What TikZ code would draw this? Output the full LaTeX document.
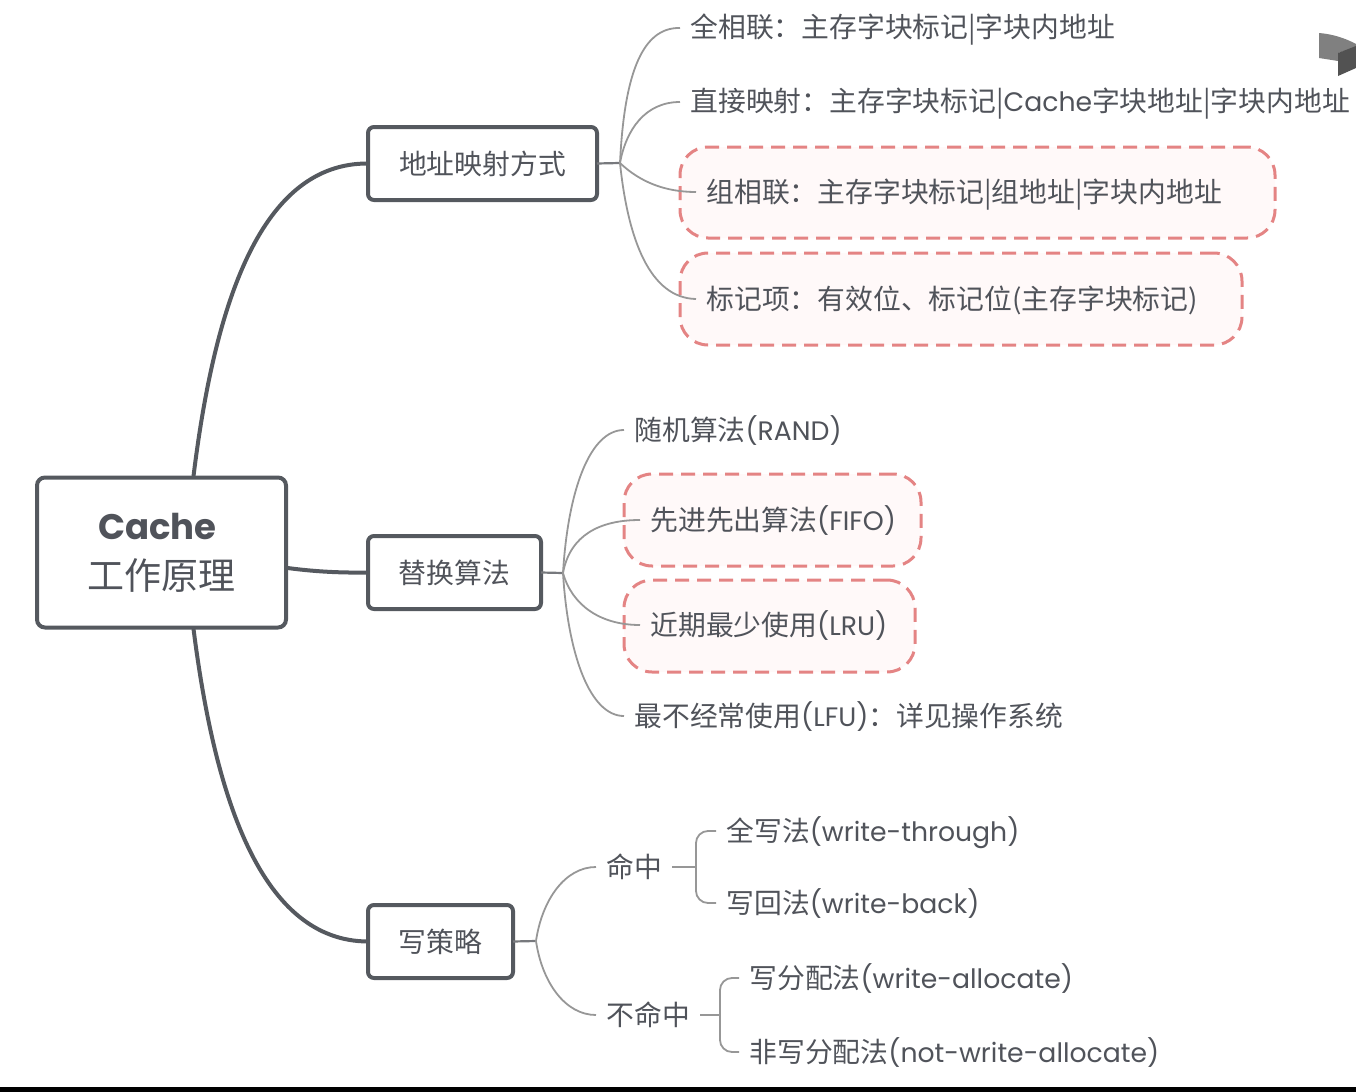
\documentclass[tikz,border=0pt]{standalone}
\usepackage{fontspec}
\setmainfont{Noto Sans CJK SC}
\newfontfamily\latfont[Scale=.96]{Poppins}
\newcommand{\lat}[1]{{\latfont #1}}
\usepackage{xcolor}
\usetikzlibrary{positioning}
\definecolor{ink}{HTML}{50535A}
\definecolor{edge}{HTML}{55595F}
\definecolor{stem}{HTML}{77797D}
\definecolor{twig}{HTML}{979797}
\definecolor{flag}{HTML}{E48484}
\definecolor{blush}{HTML}{FFF9F9}
\tikzstyle{root}=[rectangle,draw=edge,line width=2pt,rounded corners=4pt,minimum width=124.5pt,minimum height=75pt,outer sep=0pt,align=center,text=ink,font=\fontsize{18.5}{25}\selectfont]
\tikzstyle{branch}=[rectangle,draw=edge,line width=2pt,rounded corners=3pt,minimum height=36.5pt,outer sep=0pt,inner sep=0pt,text=ink,font=\fontsize{13.9}{16}\selectfont]
\tikzstyle{leaf}=[anchor=west,inner xsep=5pt,inner ysep=0pt,text height=13pt,text depth=3pt,text=ink,font=\fontsize{13.9}{16}\selectfont]
\tikzstyle{flagbox}=[rectangle,draw=flag,fill=blush,line width=1.5pt,dash pattern=on 7pt off 4pt,rounded corners=14pt,outer sep=0pt,inner sep=0pt]
\tikzstyle{thick edge}=[draw=edge,line width=2pt]
\tikzstyle{stem edge}=[draw=stem,line width=1.1pt]
\tikzstyle{twig edge}=[draw=twig,line width=.9pt]
\begin{document}
\begin{tikzpicture}[x=.5pt,y=-.5pt]
        \useasboundingbox (0,0) rectangle (1356,1092);

        % red dashed frames go first, the twigs run over them
        \node at (977.5,192.5) [flagbox,minimum width=297.5pt,minimum height=45.5pt] (setbox) {};
        \node at (961,299)     [flagbox,minimum width=281pt,minimum height=46pt]     (tagbox) {};
        \node at (772.5,520)   [flagbox,minimum width=148.5pt,minimum height=46pt]   (fifobox) {};
        \node at (769.5,626)   [flagbox,minimum width=145.5pt,minimum height=46pt]   (lrubox) {};

        \node at (161.5,552.5) [root] (cache) {\hspace*{-4pt}\textbf{\lat{Cache}}\\工作原理};

        \node at (482.5,163.5) [branch,minimum width=114.5pt] (map) {地址映射方式};
        \node at (454.5,572.5) [branch,minimum width=86.5pt]  (swap) {替换算法};
        \node at (440.5,941.5) [branch,minimum width=72.5pt]  (write) {写策略};

        \node at (680,28)  [leaf] (full) {全相联：主存字块标记|字块内地址};
        \node at (680,102) [leaf] (direct) {直接映射：主存字块标记|\lat{Cache}字块地址|字块内地址};
        \node at (696,192) [leaf] (set) {组相联：主存字块标记|组地址|字块内地址};
        \node at (696,299) [leaf] (tag) {标记项：有效位、标记位(主存字块标记)};

        \node at (624,430) [leaf] (rand) {随机算法\lat{(RAND)}};
        \node at (640,520) [leaf] (fifo) {先进先出算法\lat{(FIFO)}};
        \node at (640,625) [leaf] (lru) {近期最少使用\lat{(LRU)}};
        \node at (624,716) [leaf] (lfu) {最不经常使用\lat{(LFU)}：详见操作系统};

        \node at (596,867)  [leaf] (hit) {命中};
        \node at (596,1015) [leaf] (miss) {不命中};
        \node at (716,831)  [leaf] (through) {全写法\lat{(write-through)}};
        \node at (716,903)  [leaf] (back) {写回法\lat{(write-back)}};
        \node at (739,978)  [leaf] (alloc) {写分配法\lat{(write-allocate)}};
        \node at (739,1052) [leaf] (noalloc) {非写分配法\lat{(not-write-allocate)}};

        \coordinate (mapfork) at (620,163);
        \coordinate (swapfork) at (563,573);
        \coordinate (writefork) at (536,941);
        \coordinate (hitfork) at (696,867);
        \coordinate (missfork) at (720,1015);

        \draw [thick edge] (cache.67) .. controls (215,300) and (262,163) .. (map.west);
        \draw [thick edge] (cache.-7) .. controls (310,571) and (335,573) .. (swap.west);
        \draw [thick edge] (cache.-67) .. controls (215,800) and (262,941) .. (write.west);

        \draw [stem edge] (map.east) -- (mapfork);
        \draw [twig edge] (mapfork) .. controls (624,80) and (640,27) .. (full.west);
        \draw [twig edge] (mapfork) .. controls (626,130) and (645,102) .. (direct.west);
        \draw [twig edge] (mapfork) .. controls (640,182) and (665,192) .. (set.west);
        \draw [twig edge] (mapfork) .. controls (628,240) and (650,298) .. (tag.west);

        \draw [stem edge] (swap.east) -- (swapfork);
        \draw [twig edge] (swapfork) .. controls (568,490) and (590,430) .. (rand.west);
        \draw [twig edge] (swapfork) .. controls (570,535) and (600,520) .. (fifo.west);
        \draw [twig edge] (swapfork) .. controls (572,605) and (600,625) .. (lru.west);
        \draw [twig edge] (swapfork) .. controls (568,655) and (590,716) .. (lfu.west);

        \draw [stem edge] (write.east) -- (writefork);
        \draw [twig edge] (writefork) .. controls (542,900) and (565,867) .. (hit.west);
        \draw [twig edge] (writefork) .. controls (542,982) and (565,1015) .. (miss.west);

        \draw [twig edge] (hit.east) -- (hitfork);
        \draw [twig edge,rounded corners=6pt] (through.west) -| (hitfork) |- (back.west);
        \draw [twig edge] (miss.east) -- (missfork);
        \draw [twig edge,rounded corners=6pt] (alloc.west) -| (missfork) |- (noalloc.west);

        % the stray icon top right and the black strip at the foot
        \fill [black!50] (1319,33) .. controls (1332,34) and (1345,38) .. (1356,44) -- (1356,47) -- (1338,53) -- (1338,61) -- (1319,58) -- cycle;
        \fill [black!68] (1338,53) -- (1356,46) -- (1356,68) -- (1338,76) -- cycle;
        \fill [black] (0,1087) rectangle (1356,1092);
      \end{tikzpicture}
\end{document}
